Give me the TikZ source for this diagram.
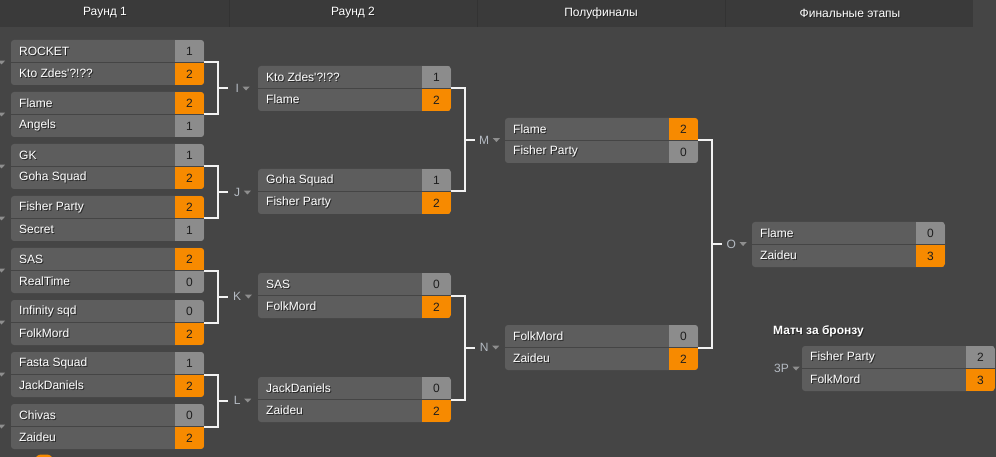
\documentclass[tikz,border=0pt]{standalone}
\usepackage{fontspec}
\setmainfont{Liberation Sans}
\usetikzlibrary{calc}
\definecolor{bg}{HTML}{454545}
\definecolor{hdr}{HTML}{3A3A3A}
\definecolor{hdrsep}{HTML}{333333}
\definecolor{cell}{HTML}{5D5D5D}
\definecolor{sgray}{HTML}{8C8C8C}
\definecolor{sorange}{HTML}{F78A00}
\definecolor{rowsep}{HTML}{454545}
\definecolor{lbl}{HTML}{B4BAC2}
\definecolor{tri}{HTML}{8E8E8E}
\definecolor{scoretext}{HTML}{1E1E1E}
\definecolor{conncol}{HTML}{F2F2F2}
\newcommand\ts[1]{\makebox[0pt][l]{\hspace{1pt}\raisebox{-1pt}{\color{black!85}#1}}#1}
\tikzset{
  matchbox/.style={draw=none, fill=cell, rounded corners=3pt, minimum width=193pt, minimum height=45pt, inner sep=0pt},
  team/.style={anchor=west, inner sep=0pt, text=white, font=\fontsize{12}{14}\selectfont},
  score/.style={inner sep=0pt, text=scoretext, font=\fontsize{12}{14}\selectfont},
  hdrtext/.style={inner sep=0pt, text=white, font=\fontsize{12}{14}\selectfont},
  lbltext/.style={inner sep=0pt, text=lbl, font=\fontsize{12}{14}\selectfont},
  conn/.style={draw=conncol, line width=2pt},
}
% #1 name, #2 x, #3 y, #4 team1, #5 s1, #6 c1, #7 team2, #8 s2, #9 c2
\newcommand\mymatch[9]{%
  \node[matchbox] (#1) at (#2+96.5,#3+22.5) {};
  \begin{scope}[shift={(#2,#3)}]
    \begin{scope}
      \clip[rounded corners=3pt] (0,0) rectangle (193,45);
      \fill[#6] (164,0) rectangle (193,22.5);
      \fill[#9] (164,22.5) rectangle (193,45);
      \draw[rowsep, line width=1pt] (0,22.5) -- (193,22.5);
    \end{scope}
    \node[team] (#1t1) at (8,11.5) {\ts{#4}};
    \node[team] (#1t2) at (8,34) {\ts{#7}};
    \node[score] (#1s1) at (178.5,11.5) {#5};
    \node[score] (#1s2) at (178.5,34) {#8};
  \end{scope}}
\newcommand\tridown[2]{\fill[tri] (#1-3.5,#2-1.8) -- (#1+3.5,#2-1.8) -- (#1,#2+2) -- cycle;}
% #1 match a, #2 match b, #3 label name, #4 label text
\newcommand\bracket[4]{%
  \draw[conn] (#1.east) -- ++(14,0) coordinate (#3v) |- (#2.east);
  \coordinate (#3m) at ($(#3v)!0.5!(#3v |- #2.east)$);
  \node[lbltext] (#3) at ($(#3m)+(19,0)$) {#4};
  \draw[conn] (#3m) -- ++(10,0);
  \path (#3.east) ++(7,0) coordinate (#3tri);
  \fill[tri] ($(#3tri)+(-3.5,-1.8)$) -- ($(#3tri)+(3.5,-1.8)$) -- ($(#3tri)+(0,2)$) -- cycle;}
\begin{document}
\begin{tikzpicture}[x=1pt,y=-1pt]
\useasboundingbox (0,0) rectangle (996,457);
\clip (0,0) rectangle (996,457);
\fill[bg] (0,0) rectangle (996,457);
% header
\fill[hdr] (0,0) rectangle (973,27);
\foreach \sx in {229,477,725}{\draw[hdrsep, line width=1pt] (\sx,0) -- (\sx,27);}
\node[hdrtext] (h1) at (105,13.5) {\ts{Раунд 1}};
\node[hdrtext] (h2) at (353,13.5) {\ts{Раунд 2}};
\node[hdrtext] (h3) at (601,13.5) {\ts{Полуфиналы}};
\node[hdrtext] (h4) at (850,13.5) {\ts{Финальные этапы}};
% left cut-off labels
\foreach \cy in {62.5,114.5,166.5,218.5,270.5,322.5,374.5,426.5}{\tridown{1.5}{\cy}}
% bottom cut-off element
\fill[sorange, rounded corners=6pt] (35,454.5) rectangle (53,470);
% round 1
\mymatch{ra}{11}{40}{ROCKET}{1}{sgray}{Kto Zdes\textquotesingle?!??}{2}{sorange}
\mymatch{rb}{11}{92}{Flame}{2}{sorange}{Angels}{1}{sgray}
\mymatch{rc}{11}{144}{GK}{1}{sgray}{Goha Squad}{2}{sorange}
\mymatch{rd}{11}{196}{Fisher Party}{2}{sorange}{Secret}{1}{sgray}
\mymatch{re}{11}{248}{SAS}{2}{sorange}{RealTime}{0}{sgray}
\mymatch{rf}{11}{300}{Infinity sqd}{0}{sgray}{FolkMord}{2}{sorange}
\mymatch{rg}{11}{352}{Fasta Squad}{1}{sgray}{JackDaniels}{2}{sorange}
\mymatch{rh}{11}{404}{Chivas}{0}{sgray}{Zaideu}{2}{sorange}
% round 2
\mymatch{mI}{258}{66}{Kto Zdes\textquotesingle?!??}{1}{sgray}{Flame}{2}{sorange}
\mymatch{mJ}{258}{169}{Goha Squad}{1}{sgray}{Fisher Party}{2}{sorange}
\mymatch{mK}{258}{273}{SAS}{0}{sgray}{FolkMord}{2}{sorange}
\mymatch{mL}{258}{377}{JackDaniels}{0}{sgray}{Zaideu}{2}{sorange}
% semis
\mymatch{mM}{505}{118}{Flame}{2}{sorange}{Fisher Party}{0}{sgray}
\mymatch{mN}{505}{325}{FolkMord}{0}{sgray}{Zaideu}{2}{sorange}
% final
\mymatch{mO}{752}{222}{Flame}{0}{sgray}{Zaideu}{3}{sorange}
% bronze
\node[hdrtext, anchor=west, font=\fontsize{12}{14}\selectfont\bfseries] (bz) at (773,332) {\ts{Матч за бронзу}};
\mymatch{mP}{802}{346}{Fisher Party}{2}{sgray}{FolkMord}{3}{sorange}
\node[lbltext] (l3P) at (781.5,368.5) {3P};
\path (l3P.east) ++(7,0) coordinate (l3Ptri);
\fill[tri] ($(l3Ptri)+(-3.5,-1.8)$) -- ($(l3Ptri)+(3.5,-1.8)$) -- ($(l3Ptri)+(0,2)$) -- cycle;
% brackets
\bracket{ra}{rb}{lI}{I}
\bracket{rc}{rd}{lJ}{J}
\bracket{re}{rf}{lK}{K}
\bracket{rg}{rh}{lL}{L}
\bracket{mI}{mJ}{lM}{M}
\bracket{mK}{mL}{lN}{N}
\bracket{mM}{mN}{lO}{O}
\end{tikzpicture}
\end{document}
